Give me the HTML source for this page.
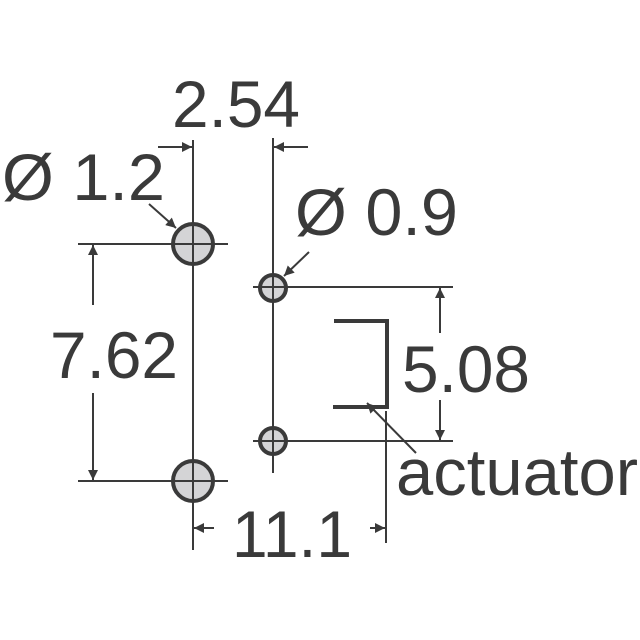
<!DOCTYPE html>
<html><head><style>html,body{margin:0;padding:0;background:#fff}svg{display:block}</style></head>
<body>
<svg width="640" height="640" viewBox="0 0 640 640" xmlns="http://www.w3.org/2000/svg">
<defs>
<marker id="a" viewBox="0 0 10 10" refX="10" refY="5" markerWidth="14" markerHeight="10" markerUnits="userSpaceOnUse" orient="auto"><path d="M0,0 L10,5 L0,10 z" fill="#3a3a3a"/></marker>
</defs>
<g stroke="#3a3a3a" stroke-width="2" fill="none">
<line x1="193" y1="140" x2="193" y2="550"/>
<line x1="273" y1="138" x2="273" y2="473"/>
<line x1="78" y1="244" x2="228" y2="244"/>
<line x1="78" y1="481" x2="228" y2="481"/>
<line x1="253" y1="287" x2="453" y2="287"/>
<line x1="253" y1="441" x2="453" y2="441"/>
<line x1="386" y1="411" x2="386" y2="543"/>
<line x1="158" y1="147" x2="192" y2="147" marker-end="url(#a)"/>
<line x1="308" y1="147" x2="274" y2="147" marker-end="url(#a)"/>
<line x1="93" y1="305" x2="93" y2="245" marker-end="url(#a)"/>
<line x1="93" y1="393" x2="93" y2="480" marker-end="url(#a)"/>
<line x1="440" y1="333" x2="440" y2="288" marker-end="url(#a)"/>
<line x1="440" y1="400" x2="440" y2="440" marker-end="url(#a)"/>
<line x1="214" y1="528" x2="194" y2="528" marker-end="url(#a)"/>
<line x1="370" y1="528" x2="385" y2="528" marker-end="url(#a)"/>
<line x1="149" y1="204" x2="176" y2="228" marker-end="url(#a)"/>
<line x1="309" y1="252" x2="284" y2="276" marker-end="url(#a)"/>
<line x1="416" y1="453" x2="367" y2="403" marker-end="url(#a)"/>
</g>
<path d="M334,321 H387 V407 H333" stroke="#3a3a3a" stroke-width="4" fill="none"/>
<g stroke="#3a3a3a" stroke-width="4" fill="#d4d4d6">
<circle cx="193" cy="244" r="20"/>
<circle cx="193" cy="481" r="20"/>
<circle cx="273" cy="288" r="13"/>
<circle cx="273" cy="441" r="13"/>
</g>
<g stroke="#3a3a3a" stroke-width="2">
<line x1="193" y1="224" x2="193" y2="264"/><line x1="173" y1="244" x2="213" y2="244"/>
<line x1="193" y1="461" x2="193" y2="501"/><line x1="173" y1="481" x2="213" y2="481"/>
<line x1="273" y1="275" x2="273" y2="301"/><line x1="260" y1="287" x2="286" y2="287"/>
<line x1="273" y1="428" x2="273" y2="454"/><line x1="260" y1="441" x2="286" y2="441"/>
</g>
<g font-family="Liberation Sans, sans-serif" font-size="66" fill="#3a3a3a">
<text x="172" y="127" textLength="128" lengthAdjust="spacingAndGlyphs">2.54</text>
<text x="2" y="200" textLength="163" lengthAdjust="spacingAndGlyphs">Ø 1.2</text>
<text x="295" y="235" textLength="163" lengthAdjust="spacingAndGlyphs">Ø 0.9</text>
<text x="50" y="378" textLength="128" lengthAdjust="spacingAndGlyphs">7.62</text>
<text x="402" y="392" textLength="128" lengthAdjust="spacingAndGlyphs">5.08</text>
<text x="396" y="495" textLength="242" lengthAdjust="spacingAndGlyphs">actuator</text>
<text x="232" y="557" textLength="120" lengthAdjust="spacingAndGlyphs">11.1</text>
</g>
</svg>
</body></html>
